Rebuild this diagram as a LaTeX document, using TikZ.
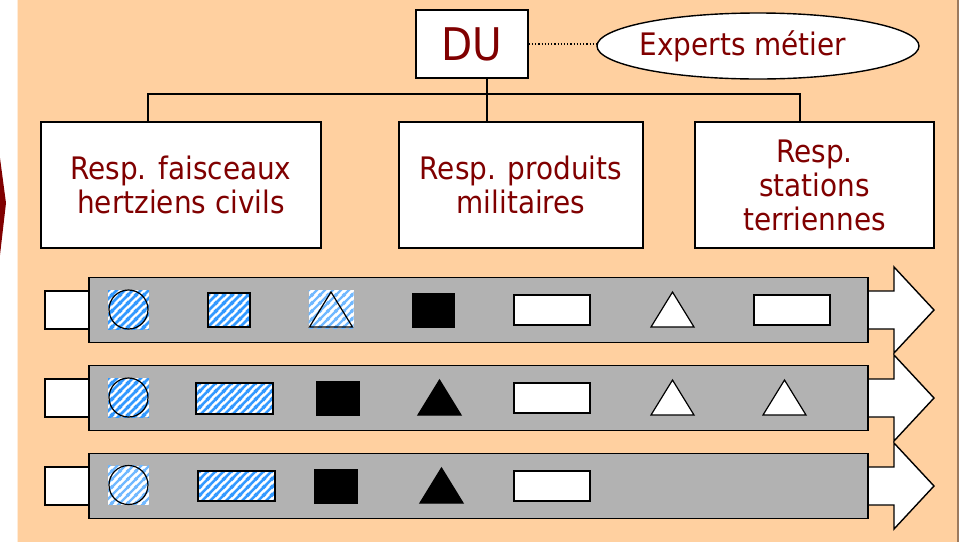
\documentclass[tikz,border=0pt]{standalone}
\usepackage{fontspec}
\setmainfont{DejaVu Sans Condensed}
\usetikzlibrary{shapes.geometric,patterns.meta}

\definecolor{peach}{RGB}{255,208,160}
\definecolor{slidebrown}{RGB}{156,122,94}
\definecolor{textred}{RGB}{128,0,0}
\definecolor{bargrey}{RGB}{178,178,178}
\definecolor{hatchblue}{RGB}{51,153,255}

% diagonal stripes, dense and soft
\tikzdeclarepattern{
  name=densestripes,
  type=uncolored,
  bounding box={(0pt,0pt) and (8pt,8pt)},
  tile size={(8pt,8pt)},
  code={
    \draw[line width=2.8pt] (-4pt,-4pt) -- (12pt,12pt);
    \draw[line width=2.8pt] (-4pt,4pt) -- (4pt,12pt);
    \draw[line width=2.8pt] (4pt,-4pt) -- (12pt,4pt);
  }
}
\tikzdeclarepattern{
  name=softstripes,
  type=uncolored,
  bounding box={(0pt,0pt) and (8pt,8pt)},
  tile size={(8pt,8pt)},
  code={
    \draw[line width=2.6pt] (-4pt,-4pt) -- (12pt,12pt);
    \draw[line width=2.6pt] (-4pt,4pt) -- (4pt,12pt);
    \draw[line width=2.6pt] (4pt,-4pt) -- (12pt,4pt);
  }
}

\newcommand{\shapetri}[3][]{\draw[line width=1.2pt,#1] (#2-21.5,#3+17.5) -- (#2,#3-17.5) -- (#2+21.5,#3+17.5) -- cycle;}

\begin{document}
\begin{tikzpicture}[x=1pt, y=-1pt,
  respbox/.style={draw, line width=1.4pt, fill=white, text=textred, align=center, inner sep=0pt, font=\fontsize{31}{34}\selectfont},
  link/.style={line width=1.4pt},
  hatch/.style={preaction={fill=white}, pattern=densestripes, pattern color=hatchblue},
  softhatch/.style={preaction={fill=white}, pattern=softstripes, pattern color=hatchblue!70},
  hatchsq/.style={hatch, minimum width=41pt, minimum height=39pt, inner sep=0pt},
  softsq/.style={softhatch, inner sep=0pt},
  ring/.style={draw, circle, line width=1.2pt, minimum size=39pt, inner sep=0pt},
  hatchrect/.style={draw, line width=1.2pt, hatch, inner sep=0pt},
  blackrect/.style={draw=black, fill=black, inner sep=0pt},
  whiterect/.style={draw, line width=1.2pt, fill=white, inner sep=0pt}]
  \useasboundingbox (0,0) rectangle (959,542);

  % slide background
  \fill[white] (0,0) rectangle (959,542);
  \fill[textred] (0,158) -- (6,203) -- (0,255) -- cycle;
  \fill[peach!40] (16.5,0) rectangle (18,542);
  \fill[peach] (18,0) rectangle (957,542);
  \fill[slidebrown] (957,0) rectangle (959,542);

  % top of the tree
  \node[respbox, minimum width=112pt, minimum height=68pt, font=\fontsize{45}{45}\selectfont] (du) at (472,44) {\raisebox{-3pt}{DU}};
  \node[draw, ellipse, line width=1.4pt, fill=white, minimum width=322pt, minimum height=66pt, inner sep=0pt, text=textred, font=\fontsize{31}{34}\selectfont] (experts) at (758,46) {\kern-30pt\raisebox{-3pt}{Experts métier}};
  \draw[dotted, line width=1.2pt] (du.east) -- (du.east -| experts.west);

  % responsables
  \node[respbox, minimum width=280pt, minimum height=126pt] (civils) at (181,185) {Resp. faisceaux\\hertziens civils};
  \node[respbox, minimum width=244pt, minimum height=126pt] (militaires) at (521,185) {Resp. produits\\militaires};
  \node[respbox, minimum width=239pt, minimum height=126pt] (stations) at (814.5,185) {Resp.\\stations\\terriennes};

  \coordinate (bus-left) at (148,94);
  \coordinate (bus-mid) at (487,94);
  \coordinate (bus-right) at (800,94);
  \draw[link] (du.south -| bus-mid) -- (militaires.north -| bus-mid);
  \draw[link] (civils.north -| bus-left) |- (bus-right) -- (stations.north -| bus-right);

  % the three flows
  \foreach \yc in {310,398,486} {
    \draw[link, fill=white] (45,\yc-19) rectangle (89,\yc+19);
    \draw[link, fill=white] (868,\yc-19) -- (894,\yc-19) -- (894,\yc-43) -- (934,\yc) -- (894,\yc+43) -- (894,\yc+19) -- (868,\yc+19);
    \draw[link, fill=bargrey] (89,\yc-32.5) rectangle (868,\yc+32.5);
  }

  % flow 1
  \node[hatchsq] (c1) at (128.5,309.5) {};
  \node[ring] (o1) at (c1) {};
  \node[hatchrect, minimum width=42pt, minimum height=34pt] (h1) at (229,310) {};
  \node[softsq, minimum width=45pt, minimum height=38pt] (t1) at (331,309) {};
  \shapetri{331}{309.5}
  \node[blackrect, minimum width=42pt, minimum height=34pt] (k1) at (433,310) {};
  \node[whiterect, minimum width=76pt, minimum height=30pt] (w1) at (552,310) {};
  \shapetri[fill=white]{672.5}{309.5}
  \node[whiterect, minimum width=76pt, minimum height=30pt] (w2) at (792,310) {};

  % flow 2
  \node[hatchsq] (c2) at (128.5,397.5) {};
  \node[ring] (o2) at (c2) {};
  \node[hatchrect, minimum width=77pt, minimum height=31pt] (h2) at (234.5,398.5) {};
  \node[blackrect, minimum width=43pt, minimum height=34pt] (k2) at (337.5,398) {};
  \shapetri[fill=black]{439.5}{397.5}
  \node[whiterect, minimum width=76pt, minimum height=30pt] (w3) at (552,398) {};
  \shapetri[fill=white]{672.5}{397.5}
  \shapetri[fill=white]{784.5}{397.5}

  % flow 3
  \node[softsq, minimum width=41pt, minimum height=39pt] (c3) at (128.5,485) {};
  \node[ring] (o3) at (c3) {};
  \node[hatchrect, minimum width=77pt, minimum height=30pt] (h3) at (236.5,486) {};
  \node[blackrect, minimum width=43pt, minimum height=34pt] (k3) at (335.5,486) {};
  \shapetri[fill=black]{441.5}{485.5}
  \node[whiterect, minimum width=76pt, minimum height=30pt] (w4) at (552,486) {};
\end{tikzpicture}
\end{document}
